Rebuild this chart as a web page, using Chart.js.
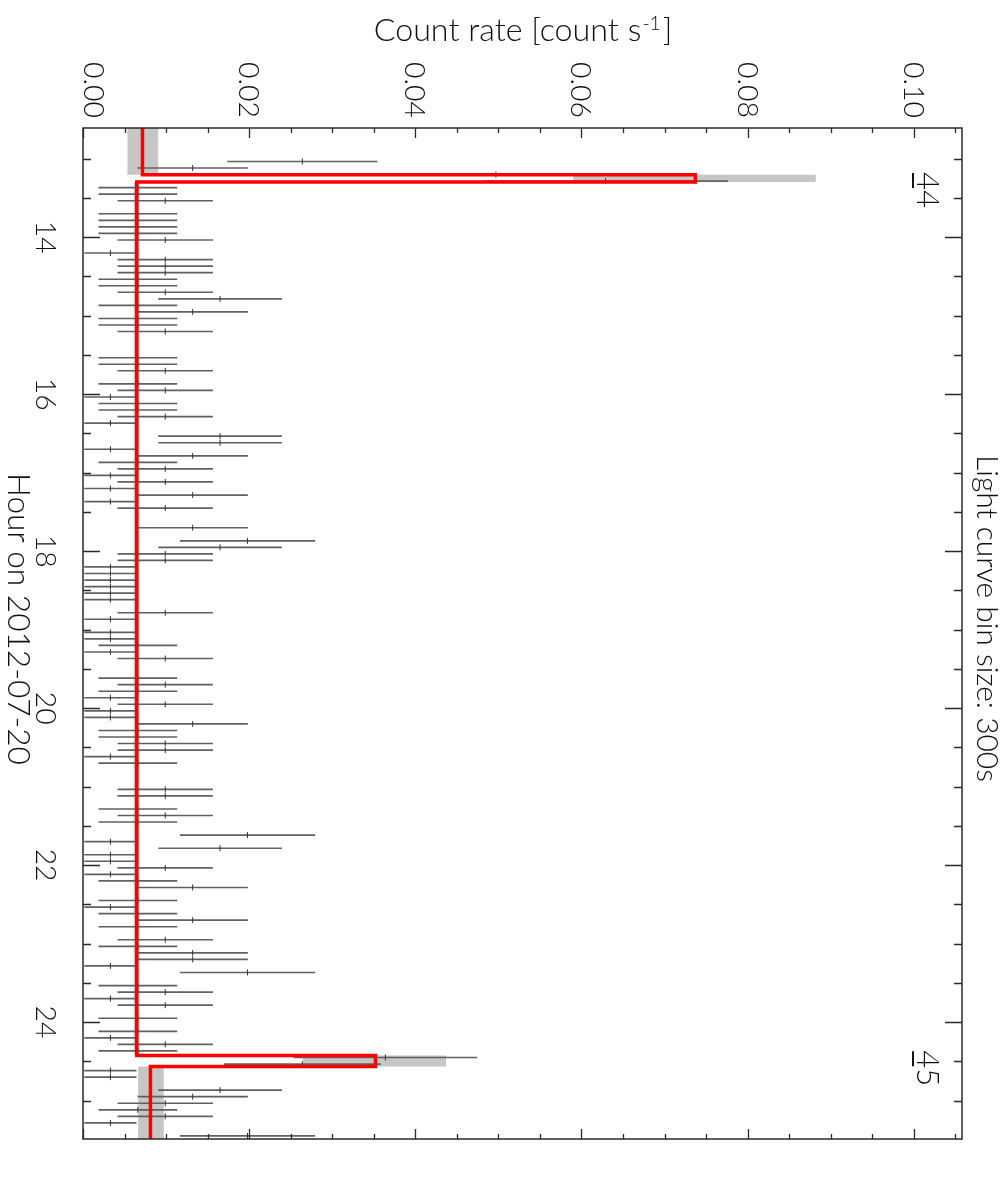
<!DOCTYPE html>
<html>
<head>
<meta charset="utf-8">
<script src="https://cdn.jsdelivr.net/npm/chart.js@4.4.1/dist/chart.umd.min.js"></script>
<style>
  html, body { margin: 0; padding: 0; background: #fff; }
  #wrap { width: 1003px; height: 1180px; }
</style>
</head>
<body>
<div id="wrap"><canvas id="lc" width="1003" height="1180"></canvas></div>
<script>
// 300 s bins, time in hours on 2012-07-20
const hours = [
  13.035, 13.118, 13.201, 13.285,
  13.368, 13.451, 13.535, 13.701, 13.785, 13.868, 13.951, 14.035,
  14.201, 14.285, 14.368, 14.451, 14.535, 14.618, 14.701, 14.785, 14.868, 14.951, 15.035, 15.118, 15.201,
  15.535, 15.618, 15.701, 15.868, 15.951, 16.035, 16.118, 16.201, 16.285, 16.368,
  16.535, 16.618, 16.701, 16.785, 16.868, 16.951, 17.035, 17.118, 17.201, 17.285, 17.368, 17.451,
  17.701, 17.868, 17.951, 18.035, 18.118, 18.201, 18.285, 18.368, 18.451, 18.535, 18.618,
  18.785, 18.868, 19.035, 19.118, 19.201, 19.285, 19.368,
  19.618, 19.701, 19.785, 19.868, 19.951, 20.035, 20.118, 20.201, 20.285, 20.368, 20.451, 20.535, 20.618, 20.701,
  21.035, 21.118, 21.285, 21.368, 21.451,
  21.618, 21.701, 21.785, 21.868, 21.951, 22.035, 22.118, 22.201, 22.285,
  22.451, 22.535, 22.618, 22.701, 22.785,
  22.951, 23.035, 23.118, 23.201, 23.285, 23.368,
  23.535, 23.618, 23.701, 23.785, 23.951,
  24.118, 24.201, 24.285, 24.368,
  24.451, 24.535, 24.618, 24.701,
  24.868, 24.951, 25.035, 25.118, 25.201, 25.285, 25.451
];
// count rate [count/s]
const rate = [
  0.0264, 0.0132, 0.0497, 0.0629,
  0.0066, 0.0066, 0.0099, 0.0066, 0.0066, 0.0066, 0.0066, 0.0099,
  0.0033, 0.0099, 0.0099, 0.0099, 0.0066, 0.0066, 0.0099, 0.0165, 0.0066, 0.0132, 0.0066, 0.0066, 0.0099,
  0.0066, 0.0066, 0.0099, 0.0066, 0.0099, 0.0033, 0.0066, 0.0066, 0.0099, 0.0033,
  0.0165, 0.0165, 0.0033, 0.0132, 0.0066, 0.0099, 0.0033, 0.0099, 0.0033, 0.0132, 0.0033, 0.0099,
  0.0132, 0.0198, 0.0165, 0.0099, 0.0099, 0.0033, 0.0033, 0.0033, 0.0033, 0.0033, 0.0033,
  0.0099, 0.0033, 0.0033, 0.0033, 0.0066, 0.0033, 0.0099,
  0.0066, 0.0099, 0.0066, 0.0033, 0.0099, 0.0033, 0.0033, 0.0132, 0.0066, 0.0066, 0.0099, 0.0099, 0.0033, 0.0066,
  0.0099, 0.0099, 0.0066, 0.0099, 0.0066,
  0.0198, 0.0033, 0.0165, 0.0033, 0.0033, 0.0099, 0.0033, 0.0066, 0.0132,
  0.0066, 0.0033, 0.0066, 0.0132, 0.0066,
  0.0099, 0.0066, 0.0132, 0.0132, 0.0033, 0.0198,
  0.0066, 0.0099, 0.0033, 0.0099, 0.0066,
  0.0066, 0.0033, 0.0099, 0.0066,
  0.0364, 0.0264, 0.0033, 0.0033,
  0.0165, 0.0132, 0.0099, 0.0066, 0.0099, 0.0033, 0.0198
];
const rateErr = [
  0.0090, 0.0066, 0.0128, 0.0147,
  0.0047, 0.0047, 0.0057, 0.0047, 0.0047, 0.0047, 0.0047, 0.0057,
  0.0031, 0.0057, 0.0057, 0.0057, 0.0047, 0.0047, 0.0057, 0.0074, 0.0047, 0.0066, 0.0047, 0.0047, 0.0057,
  0.0047, 0.0047, 0.0057, 0.0047, 0.0057, 0.0031, 0.0047, 0.0047, 0.0057, 0.0031,
  0.0074, 0.0074, 0.0031, 0.0066, 0.0047, 0.0057, 0.0031, 0.0057, 0.0031, 0.0066, 0.0031, 0.0057,
  0.0066, 0.0081, 0.0074, 0.0057, 0.0057, 0.0031, 0.0031, 0.0031, 0.0031, 0.0031, 0.0031,
  0.0057, 0.0031, 0.0031, 0.0031, 0.0047, 0.0031, 0.0057,
  0.0047, 0.0057, 0.0047, 0.0031, 0.0057, 0.0031, 0.0031, 0.0066, 0.0047, 0.0047, 0.0057, 0.0057, 0.0031, 0.0047,
  0.0057, 0.0057, 0.0047, 0.0057, 0.0047,
  0.0081, 0.0031, 0.0074, 0.0031, 0.0031, 0.0057, 0.0031, 0.0047, 0.0066,
  0.0047, 0.0031, 0.0047, 0.0066, 0.0047,
  0.0057, 0.0047, 0.0066, 0.0066, 0.0031, 0.0081,
  0.0047, 0.0057, 0.0031, 0.0057, 0.0047,
  0.0047, 0.0031, 0.0057, 0.0047,
  0.0110, 0.0094, 0.0031, 0.0031,
  0.0074, 0.0066, 0.0057, 0.0047, 0.0057, 0.0031, 0.0081
];

// bayesian blocks and their uncertainty
const blockStart = [12.5, 13.203, 13.296, 24.425, 24.566];
const blockEnd = [13.203, 13.296, 24.425, 24.566, 25.6];
const blockRate = [0.00716, 0.0737, 0.00647, 0.0352, 0.00812];
const blockLo = [0.00535, 0.0590, 0.0061, 0.0265, 0.00664];
const blockHi = [0.00905, 0.0882, 0.0068, 0.0437, 0.00972];

const rateTicks = [0, 0.02, 0.04, 0.06, 0.08, 0.10];
const rateTickLabels = ['0.00', '0.02', '0.04', '0.06', '0.08', '0.10'];
const hourTicks = [14, 16, 18, 20, 22, 24];
const hourTickLabels = ['14', '16', '18', '20', '22', '24'];
const obsLabels = ['44', '45'];
const obsStart = [13.168, 24.36];

const FONT = 'Lato';
const WEIGHT = 300;

function fitSize(ctx, text, target) {
  ctx.font = WEIGHT + ' 100px ' + FONT;
  return 100 * target / ctx.measureText(text).width;
}

// text turned 90 degrees clockwise, tops facing right
function vtext(ctx, str, x, y, align) {
  ctx.save();
  ctx.translate(x, y);
  ctx.rotate(Math.PI / 2);
  ctx.textAlign = align;
  ctx.textBaseline = 'alphabetic';
  ctx.fillText(str, 0, 0);
  ctx.restore();
}

const frame = {
  id: 'frame',
  afterDraw(chart) {
    const ctx = chart.ctx;
    const a = chart.chartArea;
    const x = chart.scales.x, y = chart.scales.y;
    ctx.save();

    // inward ticks
    ctx.strokeStyle = '#2a2a2a';
    ctx.lineWidth = 1.3;
    ctx.beginPath();
    for (let i = 0; i * 0.005 <= x.max + 1e-9; i++) {
      const px = Math.round(x.getPixelForValue(i * 0.005)) + 0.5;
      const len = i % 4 === 0 ? 10 : 5;
      ctx.moveTo(px, a.top); ctx.lineTo(px, a.top + len);
      ctx.moveTo(px, a.bottom); ctx.lineTo(px, a.bottom - len);
    }
    for (let i = 0; 13 + i * 0.5 <= y.max; i++) {
      const h = 13 + i * 0.5;
      const py = Math.round(y.getPixelForValue(h)) + 0.5;
      const len = h % 2 === 0 ? 17 : 8;
      ctx.moveTo(a.left, py); ctx.lineTo(a.left + len, py);
      ctx.moveTo(a.right, py); ctx.lineTo(a.right - len, py);
    }
    ctx.stroke();
    ctx.lineWidth = 1.5;
    ctx.strokeRect(a.left, a.top, a.right - a.left, a.bottom - a.top);

    ctx.fillStyle = '#111';

    // count rate tick labels
    const ts = fitSize(ctx, '0.00', 56);
    ctx.font = WEIGHT + ' ' + ts + 'px ' + FONT;
    const cap = ctx.measureText('0').actualBoundingBoxAscent;
    rateTicks.forEach((v, i) => {
      const bx = Math.max(x.getPixelForValue(v) - cap / 2, a.left + 1);
      vtext(ctx, rateTickLabels[i], bx, a.top - 10, 'right');
    });

    // hour tick labels
    hourTicks.forEach((h, i) => {
      vtext(ctx, hourTickLabels[i], 36, y.getPixelForValue(h), 'center');
    });

    // left title
    let s = fitSize(ctx, 'Hour on 2012-07-20', 292);
    ctx.font = WEIGHT + ' ' + s + 'px ' + FONT;
    vtext(ctx, 'Hour on 2012-07-20', 8, 619, 'center');

    // right note
    s = fitSize(ctx, 'Light curve bin size: 300s', 327);
    ctx.font = WEIGHT + ' ' + s + 'px ' + FONT;
    vtext(ctx, 'Light curve bin size: 300s', 977, 618.5, 'center');

    // top title with superscript
    const t1 = 'Count rate [count s', sup = '-1', t2 = ']';
    ctx.font = WEIGHT + ' 100px ' + FONT;
    const w1 = ctx.measureText(t1).width, w2 = ctx.measureText(t2).width;
    ctx.font = WEIGHT + ' 60px ' + FONT;
    const ws = ctx.measureText(sup).width;
    const k = 297 / (w1 + ws + w2 + 4);
    let tx = 521.5 - (w1 + ws + w2) * k / 2;
    ctx.textAlign = 'left';
    ctx.textBaseline = 'alphabetic';
    ctx.font = WEIGHT + ' ' + (100 * k) + 'px ' + FONT;
    ctx.fillText(t1, tx, 41);
    tx += w1 * k + 1;
    ctx.font = WEIGHT + ' ' + (60 * k) + 'px ' + FONT;
    ctx.fillText(sup, tx, 30);
    tx += ws * k + 2;
    ctx.font = WEIGHT + ' ' + (100 * k) + 'px ' + FONT;
    ctx.fillText(t2, tx, 41);

    // observation numbers
    s = fitSize(ctx, '44', 36);
    ctx.font = WEIGHT + ' ' + s + 'px ' + FONT;
    const cw = ctx.measureText('4').width;
    ctx.lineWidth = 2;
    ctx.strokeStyle = '#111';
    obsLabels.forEach((lab, i) => {
      const py = y.getPixelForValue(obsStart[i]);
      vtext(ctx, lab, a.right - 45, py, 'left');
      ctx.beginPath();
      ctx.moveTo(a.right - 49, py + 1);
      ctx.lineTo(a.right - 49, py + cw - 2);
      ctx.stroke();
    });

    ctx.restore();
  }
};

const redPath = [];
blockRate.forEach((r, i) => {
  redPath.push({x: r, y: blockStart[i]}, {x: r, y: blockEnd[i]});
});

const bands = blockStart.map((st, i) => ({
  type: 'scatter',
  order: 4,
  showLine: true,
  data: [
    {x: blockLo[i], y: st}, {x: blockHi[i], y: st},
    {x: blockHi[i], y: blockEnd[i]}, {x: blockLo[i], y: blockEnd[i]},
    {x: blockLo[i], y: st}
  ],
  fill: 'shape',
  backgroundColor: '#c6c6c6',
  borderColor: 'rgba(0,0,0,0)',
  borderWidth: 0,
  pointRadius: 0
}));

new Chart(document.getElementById('lc'), {
  type: 'scatter',
  data: {
    datasets: [
      {
        type: 'scatter',
        order: 1,
        showLine: true,
        data: redPath,
        borderColor: '#ff0000',
        borderWidth: 3.5,
        borderJoinStyle: 'miter',
        pointRadius: 0,
        fill: false,
        clip: 0
      },
      {
        type: 'scatter',
        order: 2,
        data: hours.map((h, i) => ({x: rate[i], y: h})),
        pointStyle: 'line',
        pointRotation: 90,
        pointRadius: 3,
        pointBorderWidth: 1,
        pointBorderColor: '#333'
      },
      {
        type: 'bar',
        order: 3,
        indexAxis: 'y',
        data: hours.map((h, i) => ({y: h, x: [rate[i] - rateErr[i], rate[i] + rateErr[i]]})),
        backgroundColor: '#606060',
        borderWidth: 0,
        barThickness: 1
      },
      ...bands
    ]
  },
  options: {
    responsive: false,
    animation: false,
    devicePixelRatio: 1,
    events: [],
    layout: { padding: { left: 83, top: 128, right: 41, bottom: 41 } },
    plugins: { legend: { display: false }, tooltip: { enabled: false } },
    scales: {
      x: { type: 'linear', min: 0, max: 0.1058, offset: false, display: false },
      y: { type: 'linear', min: 12.608, max: 25.49, reverse: true, offset: false, display: false }
    }
  },
  plugins: [frame]
});
</script>
</body>
</html>
